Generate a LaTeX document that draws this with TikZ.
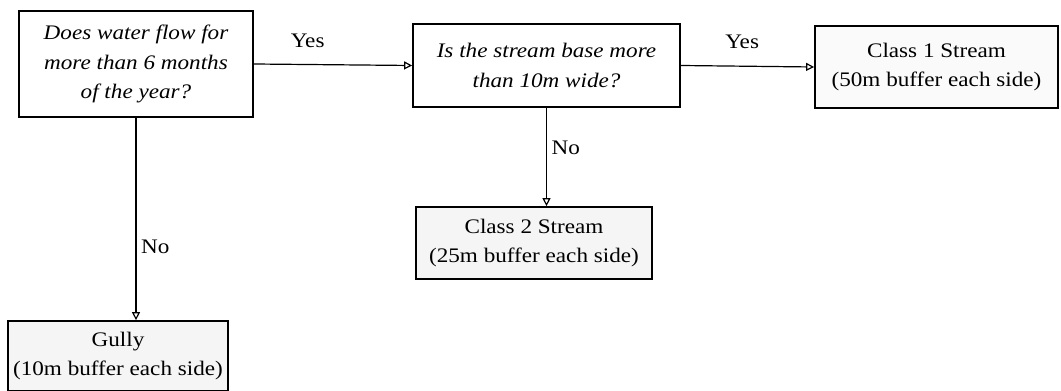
\documentclass[tikz,border=0pt]{standalone}
\usepackage{fontspec}
\setmainfont{Liberation Serif}[FakeStretch=1.12]
\usetikzlibrary{arrows.meta}
\tikzset{
  txt/.style={font=\fontsize{15.5}{22}\selectfont},
  question/.style={draw, line width=1.3pt, align=center, inner sep=0pt, font=\fontsize{15.5}{22}\selectfont\itshape},
  outcome/.style={draw, line width=1.3pt, align=center, inner sep=0pt, fill=black!4, txt},
  flow/.style={line width=0.9pt, -{Triangle[open, length=6pt, width=6pt]}}
}
\begin{document}
\begin{tikzpicture}[x=0.75pt, y=-0.75pt]
  \useasboundingbox (0,0) rectangle (1061,391);
  % questions
  \node[question, minimum width=234*0.75pt, minimum height=106*0.75pt] (flow) at (136,64)
    {Does water flow for\\more than 6 months\\of the year?};
  \node[question, minimum width=267*0.75pt, minimum height=83*0.75pt] (wide) at (546.5,65.5)
    {Is the stream base more\\than 10m wide?};
  % outcomes
  \node[outcome, fill=black!2, minimum width=243*0.75pt, minimum height=82*0.75pt] (classone) at (936.5,67)
    {Class 1 Stream\\(50m buffer each side)};
  \node[outcome, minimum width=236*0.75pt, minimum height=72*0.75pt] (classtwo) at (534,243)
    {Class 2 Stream\\(25m buffer each side)};
  \node[outcome, minimum width=220*0.75pt, minimum height=70*0.75pt] (gully) at (118,356)
    {Gully\\(10m buffer each side)};
  % connectors
  \draw[flow] (flow.east) -- node[txt, pos=0.34, above=9pt] {Yes} (wide.west);
  \draw[flow] (wide.east) -- node[txt, pos=0.46, above=9pt] {Yes} (classone.west);
  \draw[flow] (wide.south) -- node[txt, pos=0.41, right=0pt] {No} (wide.south |- classtwo.north);
  \draw[flow] (flow.south) -- node[txt, pos=0.64, right=0pt] {No} (flow.south |- gully.north);
\end{tikzpicture}
\end{document}
